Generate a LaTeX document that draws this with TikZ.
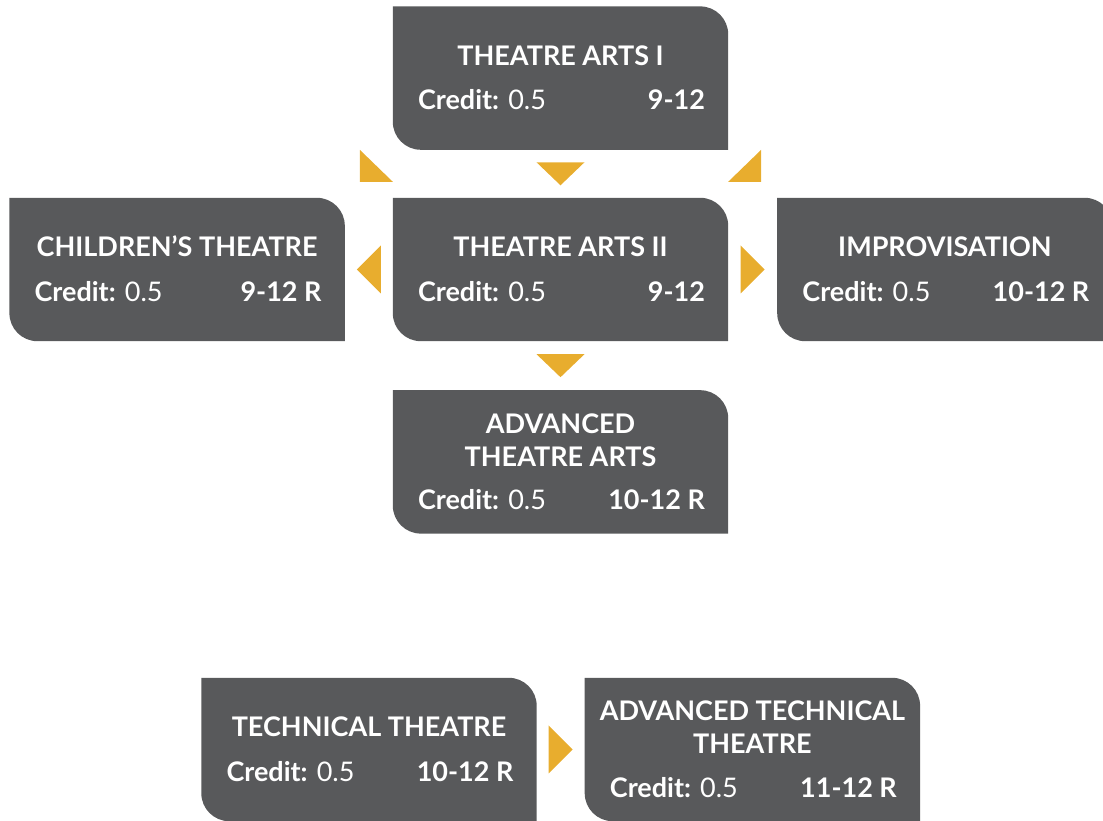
\documentclass[tikz,border=0pt]{standalone}
\usepackage{fontspec}
\setmainfont{Lato}
\usetikzlibrary{positioning,calc}
\definecolor{boxgray}{HTML}{58595B}
\definecolor{gold}{HTML}{E8AD2E}

\tikzset{
  crs/.style={minimum width=335pt,minimum height=143pt,inner sep=0pt},
  hd/.style={white,font=\bfseries\fontsize{27}{33}\selectfont,align=center,
             anchor=base,inner sep=0pt},
  cr/.style={white,font=\fontsize{27}{33}\selectfont,inner sep=0pt},
  tri/.style={fill=gold},
}
% box with two rounded corners (top right, bottom left)
\newcommand\crsfill[1]{%
  \fill[boxgray] (#1.north west) -- ([xshift=-28pt]#1.north east)
    arc[start angle=90,end angle=0,radius=28pt] -- (#1.south east)
    -- ([xshift=28pt]#1.south west)
    arc[start angle=270,end angle=180,radius=28pt] -- cycle;}
% texts: box, title, grades, drop to last title line, credit line height
\newcommand\crstext[5]{%
  \node[hd] (#1-hd) at ([yshift=-#4]#1.north) {#2};
  \node[cr,anchor=base west] (#1-cr) at ([shift={(25pt,#5)}]#1.south west)
    {\textbf{Credit:} 0.5};
  \node[cr,anchor=base east] (#1-gr) at ([shift={(-23pt,#5)}]#1.south east)
    {\textbf{#3}};}

\begin{document}
\begin{tikzpicture}[x=1pt,y=1pt]
  \useasboundingbox (0,0) rectangle (1103,821);
  \node[crs] (ta2) at (560.5,551.5) {};
  \node[crs,above=48pt of ta2] (ta1) {};
  \node[crs,left=48pt of ta2] (child) {};
  \node[crs,right=49pt of ta2] (impro) {};
  \node[crs,below=49pt of ta2] (adv) {};
  \node[crs] (tech) at (369,71.5) {};
  \node[crs,right=48pt of tech] (advtech) {};
  \foreach \b in {ta1,ta2,child,impro,adv,tech,advtech} {\crsfill{\b}}
  %
  \crstext{ta1}{THEATRE ARTS I}{9-12}{59pt}{40pt}
  \crstext{ta2}{THEATRE ARTS II}{9-12}{59pt}{40pt}
  \crstext{child}{CHILDREN’S THEATRE}{9-12 R}{59pt}{40pt}
  \crstext{impro}{IMPROVISATION}{10-12 R}{59pt}{40pt}
  \crstext{adv}{ADVANCED\\THEATRE ARTS}{10-12 R}{76pt}{24pt}
  \crstext{tech}{TECHNICAL THEATRE}{10-12 R}{59pt}{40pt}
  \crstext{advtech}{ADVANCED TECHNICAL\\THEATRE}{11-12 R}{76pt}{24pt}
  %
  % arrow heads between the boxes
  \fill[tri] ($(ta1.south)!0.5!(ta2.north)$) ++(-24,11.5) -- ++(48,0) -- ++(-24,-23) -- cycle;
  \fill[tri] ($(ta2.south)!0.5!(adv.north)$) ++(-24,11.5) -- ++(48,0) -- ++(-24,-23) -- cycle;
  \fill[tri] ($(child.east)!0.5!(ta2.west)$) ++(12,24) -- ++(0,-48) -- ++(-24,24) -- cycle;
  \fill[tri] ($(ta2.east)!0.5!(impro.west)$) ++(-12,24) -- ++(0,-48) -- ++(24,24) -- cycle;
  \fill[tri] ($(tech.east)!0.5!(advtech.west)$) ++(-12,24) -- ++(0,-48) -- ++(24,24) -- cycle;
  \fill[tri] (ta1.south west) ++(-33,0) -- ++(0,-32) -- ++(33,0) -- cycle;
  \fill[tri] (ta1.south east) ++(33,0) -- ++(0,-32) -- ++(-33,0) -- cycle;
\end{tikzpicture}
\end{document}
